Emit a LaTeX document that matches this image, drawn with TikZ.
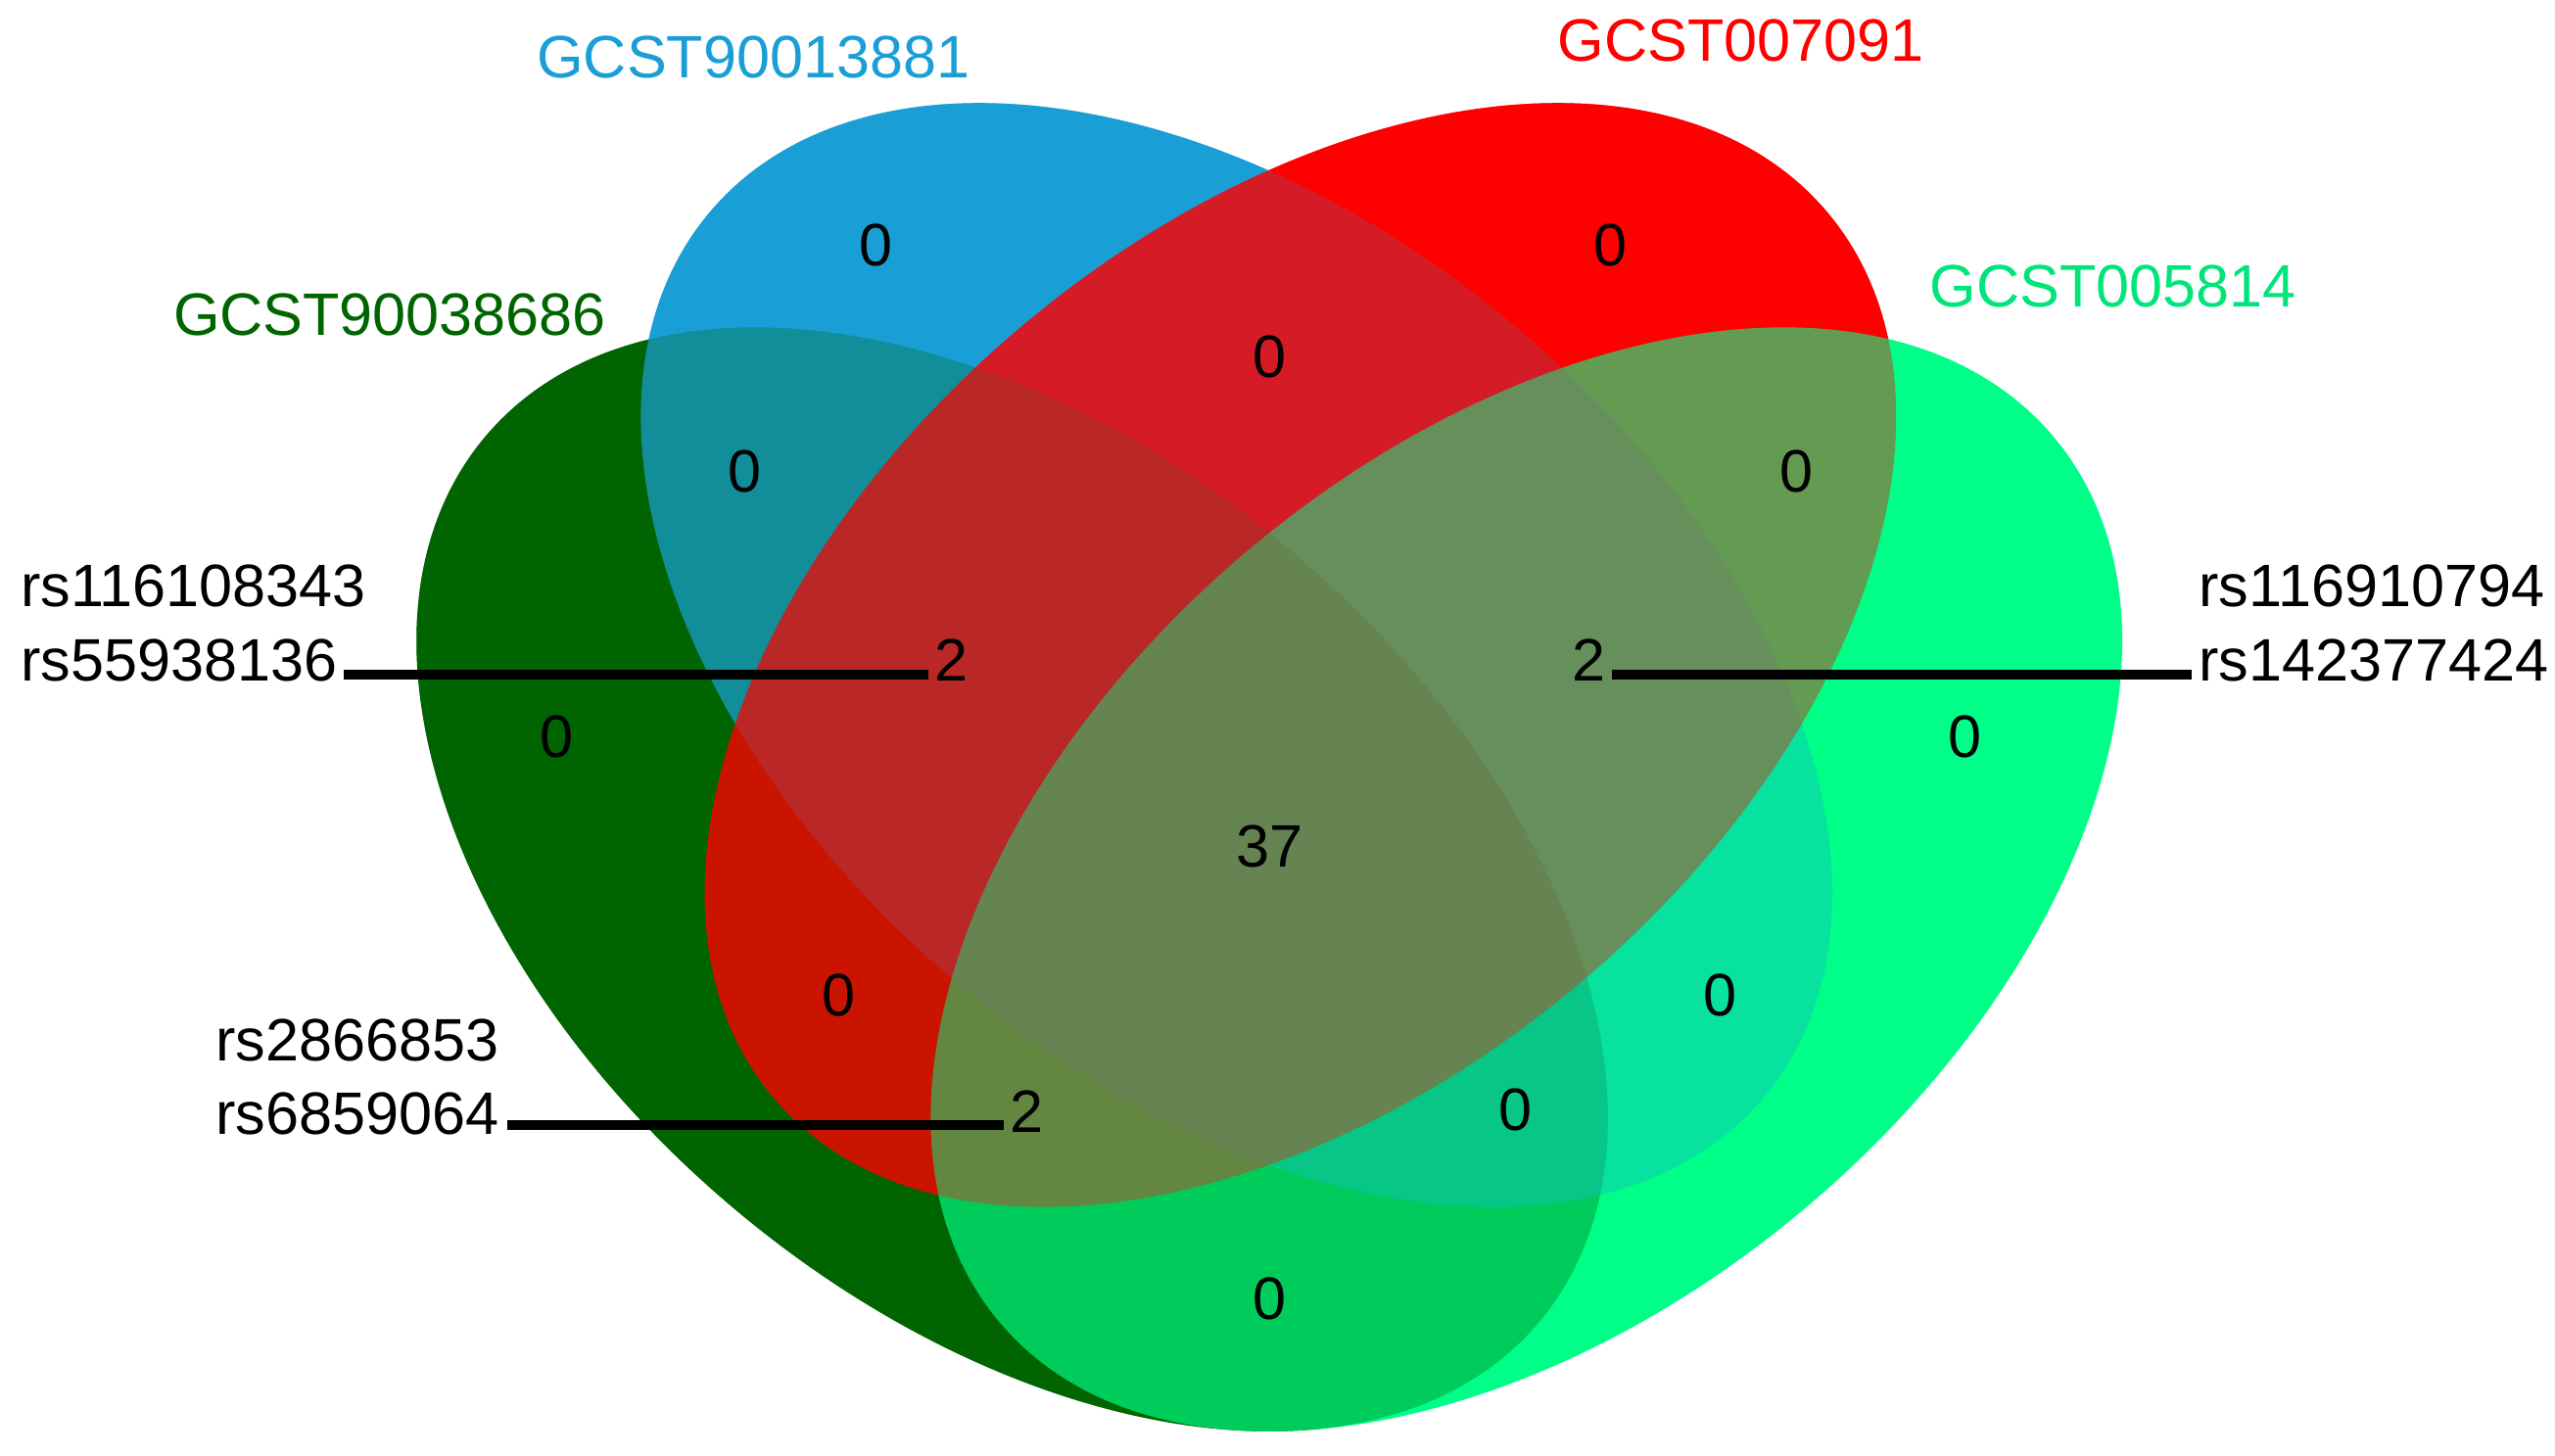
\documentclass[tikz,border=0pt]{standalone}
\usepackage{fontspec}
\setmainfont{Liberation Sans}
\begin{document}
\begin{tikzpicture}[x=0.01cm,y=-0.01cm,
  lbl/.style={font=\fontsize{10.4pt}{12pt}\selectfont,inner sep=0pt},
  num/.style={font=\fontsize{10.4pt}{12pt}\selectfont,inner sep=1pt},
  snp/.style={font=\fontsize{10.4pt}{12pt}\selectfont,inner sep=0pt,anchor=west},
  lead/.style={line width=1.6pt}]
\definecolor{cdg}{HTML}{006400}
\definecolor{cbl}{HTML}{1A9ED6}
\definecolor{crd}{HTML}{FF0000}
\definecolor{clg}{HTML}{00FF88}
\useasboundingbox (0,0) rectangle (1560,889);
\newcommand{\ellDG}{(618,537) ellipse [x radius=4.2cm,y radius=2.63cm,rotate=-40]}
\newcommand{\ellBL}{(755,400) ellipse [x radius=4.2cm,y radius=2.63cm,rotate=-40]}
\newcommand{\ellRD}{(794,400) ellipse [x radius=4.2cm,y radius=2.63cm,rotate=40]}
\newcommand{\ellLG}{(932,537) ellipse [x radius=4.2cm,y radius=2.63cm,rotate=40]}
% opaque pass
\fill[cdg] \ellDG; \fill[cbl] \ellBL; \fill[crd] \ellRD; \fill[clg] \ellLG;
% blending pass
\fill[cdg,opacity=0.5] \ellDG; \fill[cbl,opacity=0.45] \ellBL;
\fill[crd,opacity=0.6] \ellRD; \fill[clg,opacity=0.35] \ellLG;
% set labels
\node[lbl,text=cbl] (lb) at (460,35) {GCST90013881};
\node[lbl,text=crd] (lr) at (1063,25) {GCST007091};
\node[lbl,text=cdg] (ldg) at (238,192) {GCST90038686};
\node[lbl,text=clg!90!black] (llg) at (1290,175) {GCST005814};
% counts
\node[num] (n1) at (535,150) {0};
\node[num] (n2) at (983,150) {0};
\node[num] (n3) at (775,218) {0};
\node[num] (n4) at (455,288) {0};
\node[num] (n5) at (1097,288) {0};
\node[num] (n6) at (340,450) {0};
\node[num] (n7) at (1200,450) {0};
\node[num] (n8) at (581,403) {2};
\node[num] (n9) at (970,403) {2};
\node[num] (n10) at (775,517) {37};
\node[num] (n11) at (512,608) {0};
\node[num] (n12) at (1050,608) {0};
\node[num] (n13) at (627,679) {2};
\node[num] (n14) at (925,678) {0};
\node[num] (n15) at (775,793) {0};
% snp labels
\node[snp] (s1) at (12,358) {rs116108343};
\node[snp] (s2) at (12,403) {rs55938136};
\node[snp] (s3) at (1342,358) {rs116910794};
\node[snp] (s4) at (1342,403) {rs142377424};
\node[snp] (s5) at (131,635) {rs2866853};
\node[snp] (s6) at (131,680) {rs6859064};
\coordinate (c1) at (210,412);
\coordinate (c2) at (1338,412);
\coordinate (c3) at (310,687);
\draw[lead] (c1) -- (c1 -| n8.west);
\draw[lead] (c2) -- (c2 -| n9.east);
\draw[lead] (c3) -- (c3 -| n13.west);
\end{tikzpicture}
\end{document}
